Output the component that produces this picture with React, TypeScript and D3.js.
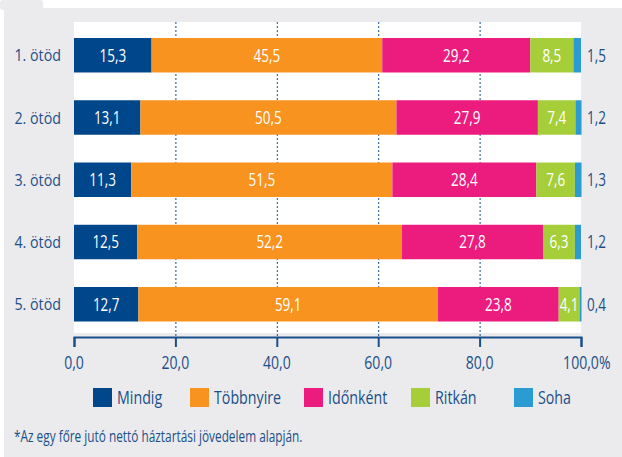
import React, { useRef, useEffect } from 'react';
import * as d3 from 'd3';

const WIDTH = 622;
const HEIGHT = 457;
const PLOT = { left: 74, right: 581, top: 22, bottom: 333 };

const CATEGORIES = ['1. ötöd', '2. ötöd', '3. ötöd', '4. ötöd', '5. ötöd'];
const SERIES = ['Mindig', 'Többnyire', 'Időnként', 'Ritkán', 'Soha'];
const COLORS = ['#00468b', '#f7931e', '#ec1c7f', '#a6ce39', '#2a9bd3'];

const MINDIG = [15.3, 13.1, 11.3, 12.5, 12.7];
const TOBBNYIRE = [45.5, 50.5, 51.5, 52.2, 59.1];
const IDONKENT = [29.2, 27.9, 28.4, 27.8, 23.8];
const RITKAN = [8.5, 7.4, 7.6, 6.3, 4.1];
const SOHA = [1.5, 1.2, 1.3, 1.2, 0.4];

const X_TICKS = [0, 20, 40, 60, 80, 100];
const LEGEND_X = [93, 190, 304, 411, 514];
const FOOTNOTE = '*Az egy főre jutó nettó háztartási jövedelem alapján.';

const TEXT_BLUE = '#1b4f8a';
const BG = '#ebebed';
const FONT = '"Open Sans", "DejaVu Sans Condensed", sans-serif';

const fmt = (v: number) => d3.format('.1f')(v).replace('.', ',');

// condensed text: draw at (x, y) squeezed horizontally
function cond(sel: any, x: number, y: number, size: number, sx: number, anchor = 'start', fill = TEXT_BLUE) {
  return sel
    .attr('transform', `translate(${x},${y}) scale(${sx},1)`)
    .attr('x', 0).attr('y', 0)
    .attr('dy', '0.36em')
    .attr('text-anchor', anchor)
    .attr('fill', fill)
    .attr('font-size', `${size}px`)
    .attr('font-family', FONT);
}

export default function App() {
  const svgRef = useRef<SVGSVGElement>(null);

  useEffect(() => {
    const svg = d3.select(svgRef.current);
    svg.selectAll('*').remove();

    // background panel
    svg.append('rect').attr('width', WIDTH).attr('height', HEIGHT).attr('fill', '#ffffff');
    svg.append('rect').attr('x', 0).attr('y', 0).attr('width', 43).attr('height', 10).attr('rx', 3).attr('fill', BG);
    svg.append('rect').attr('x', 4).attr('y', 8).attr('width', WIDTH - 4).attr('height', HEIGHT - 8).attr('fill', BG);

    svg.append('rect')
      .attr('x', PLOT.left).attr('y', PLOT.top)
      .attr('width', PLOT.right - PLOT.left).attr('height', PLOT.bottom - PLOT.top)
      .attr('fill', '#ffffff');

    const x = d3.scaleLinear().domain([0, 100]).range([PLOT.left, PLOT.right]);
    const y = d3.scaleBand().domain(CATEGORIES).range([38, 321.5]).paddingInner(0.446).paddingOuter(0);

    // grid
    svg.append('g')
      .selectAll('line')
      .data(X_TICKS.slice(1, -1))
      .join('line')
      .attr('x1', d => x(d) + 0.5).attr('x2', d => x(d) + 0.5)
      .attr('y1', PLOT.top).attr('y2', PLOT.bottom + 4)
      .attr('stroke', TEXT_BLUE).attr('stroke-width', 1).attr('stroke-dasharray', '2,2');

    const rows = CATEGORIES.map((c, i) => ({
      cat: c,
      Mindig: MINDIG[i],
      'Többnyire': TOBBNYIRE[i],
      'Időnként': IDONKENT[i],
      'Ritkán': RITKAN[i],
      Soha: SOHA[i],
    }));

    const stacked = d3.stack<any>().keys(SERIES)(rows);

    stacked.forEach((layer, si) => {
      const lg = svg.append('g');
      lg.selectAll('rect')
        .data(layer)
        .join('rect')
        .attr('x', d => x(d[0]))
        .attr('y', d => y(d.data.cat)!)
        .attr('width', d => Math.max(0.8, x(Math.min(d[1], 100.2)) - x(d[0])))
        .attr('height', y.bandwidth())
        .attr('fill', COLORS[si]);

      layer.forEach(d => {
        const cy = y(d.data.cat)! + y.bandwidth() / 2;
        const t = lg.append('text').text(fmt(d[1] - d[0]));
        if (si < 4) cond(t, (x(d[0]) + x(d[1])) / 2, cy, 18, 0.75, 'middle', '#ffffff');
        else cond(t, x(100) + 6, cy, 18, 0.75, 'start');
      });
    });

    // category labels
    CATEGORIES.forEach(c => {
      cond(svg.append('text').text(c), 61, y(c)! + y.bandwidth() / 2, 17, 0.84, 'end');
    });

    // x axis
    const axisY = 337;
    const xAxis = svg.append('g')
      .attr('transform', `translate(0,${axisY})`)
      .call(d3.axisBottom(x).tickValues(X_TICKS).tickSize(10).tickSizeOuter(10).tickFormat(() => ''));
    xAxis.selectAll('path, line').attr('stroke', TEXT_BLUE).attr('stroke-width', 2);

    X_TICKS.forEach(v => {
      const t = cond(svg.append('text').text(fmt(v)), x(v), 362, 19, 0.74, 'middle');
      if (v === 100) {
        const half = ((t.node() as SVGTextElement).getComputedTextLength() * 0.74) / 2;
        cond(svg.append('text').text('%'), x(v) + half, 362, 19, 0.74, 'start');
      }
    });

    // legend
    SERIES.forEach((s, i) => {
      svg.append('rect').attr('x', LEGEND_X[i]).attr('y', 388).attr('width', 19).attr('height', 19).attr('fill', COLORS[i]);
      cond(svg.append('text').text(s), LEGEND_X[i] + 24, 397, 19, 0.75, 'start');
    });

    cond(svg.append('text').text(FOOTNOTE), 14, 436, 16, 0.74, 'start');
  }, []);

  return (
    <svg
      ref={svgRef}
      width={WIDTH}
      height={HEIGHT}
      style={{ position: 'absolute', left: 0, top: 0 }}
    />
  );
}
